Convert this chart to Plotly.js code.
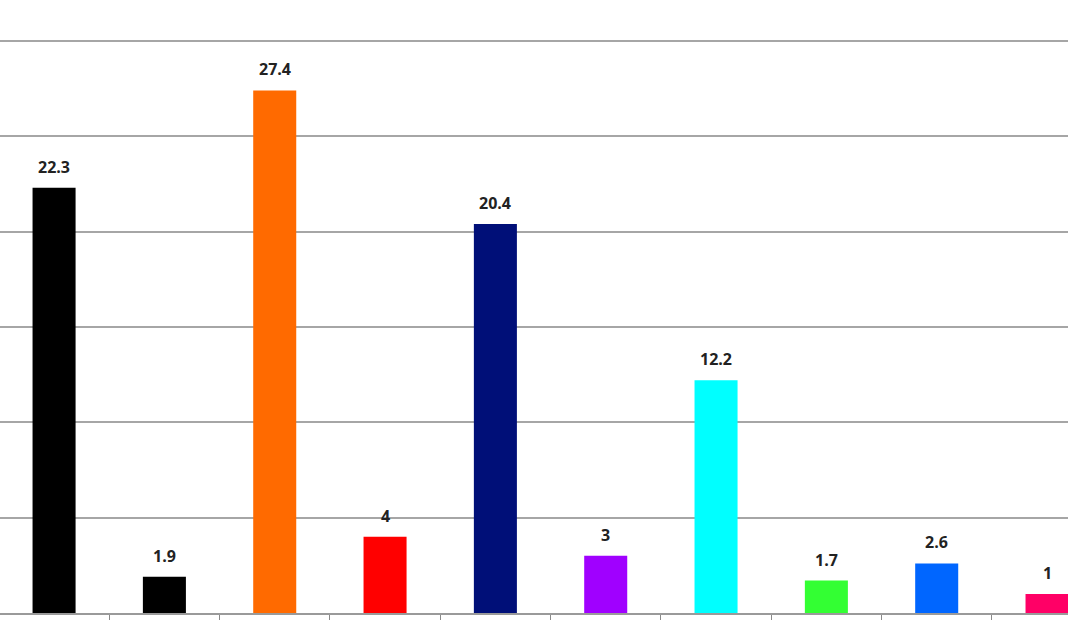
<!DOCTYPE html>
<html>
<head>
<meta charset="utf-8">
<script src="https://cdn.plot.ly/plotly-3.0.1.min.js"></script>
<style>html,body{margin:0;padding:0;background:#fff;}#chart{width:1068px;height:630px;}</style>
</head>
<body>
<div id="chart"></div>
<script>
var categories = ["c1","c2","c3","c4","c5","c6","c7","c8","c9","c10"];
var values = [22.3, 1.9, 27.4, 4, 20.4, 3, 12.2, 1.7, 2.6, 1];
var labels = ["22.3","1.9","27.4","4","20.4","3","12.2","1.7","2.6","1"];
var colors = ["#000000","#000000","#FF6A00","#FF0000","#000F78","#A000FF","#00FFFF","#33FF33","#0066FF","#FF0066"];

var trace = {
  type: "bar",
  x: categories,
  y: values,
  marker: {color: colors, line: {width: 0}},
  width: 0.39,
  hoverinfo: "none"
};

var annotations = categories.map(function (c, i) {
  return {
    x: c, y: values[i], xref: "x", yref: "y",
    text: labels[i], showarrow: false,
    yanchor: "bottom", xanchor: "center", yshift: 8,
    font: {family: "Open Sans", size: 16, color: "#222222", weight: 700}
  };
});

var layout = {
  width: 1068,
  height: 630,
  margin: {l: 0, r: 0, t: 39, b: 17, pad: 0},
  paper_bgcolor: "#ffffff",
  plot_bgcolor: "#ffffff",
  showlegend: false,
  annotations: annotations,
  xaxis: {
    type: "category",
    range: [-0.49, 9.19],
    showticklabels: false,
    showgrid: false,
    zeroline: false,
    showline: true,
    linecolor: "#9a9a9a",
    linewidth: 2,
    ticks: "outside",
    tickson: "boundaries",
    ticklen: 5,
    tickwidth: 1,
    tickcolor: "#8a8a8a"
  },
  yaxis: {
    range: [0, 30.1],
    tickvals: [5, 10, 15, 20, 25, 30],
    showticklabels: false,
    showgrid: true,
    gridcolor: "#a6a6a6",
    gridwidth: 2,
    zeroline: false,
    showline: true,
    linecolor: "#eeeeee",
    linewidth: 1,
    ticks: ""
  }
};

Plotly.newPlot("chart", [trace], layout, {staticPlot: true, displayModeBar: false});
</script>
</body>
</html>
